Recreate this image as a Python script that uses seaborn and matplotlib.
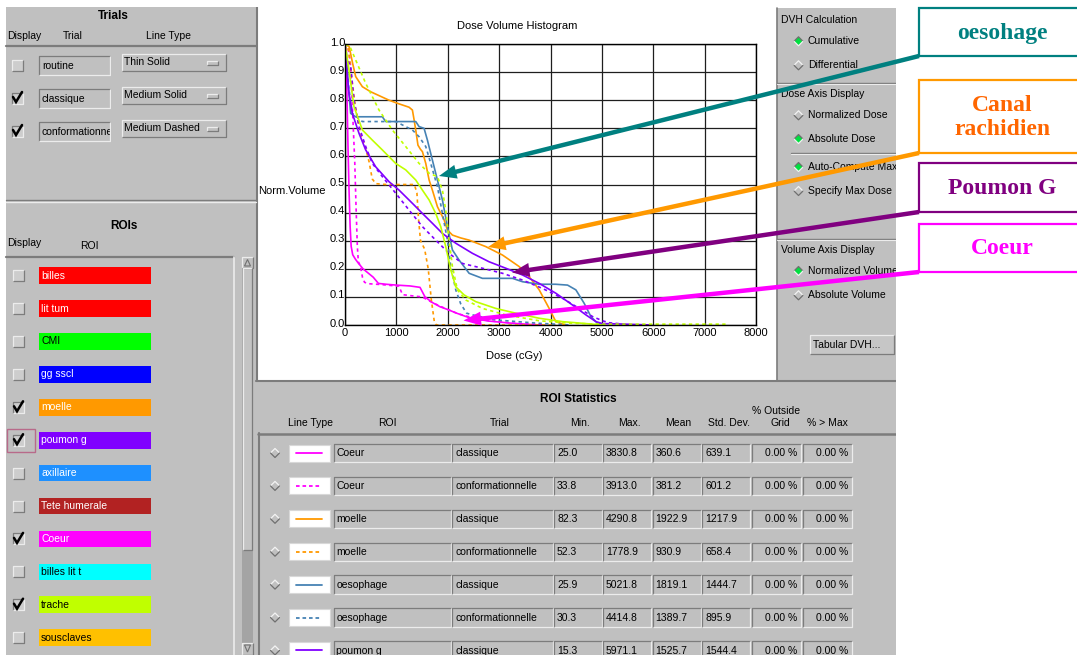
import numpy as np
import pandas as pd
import matplotlib
matplotlib.use("Agg")
import matplotlib.pyplot as plt
import matplotlib.transforms as mtransforms
import seaborn as sns
from matplotlib.patches import Rectangle, Polygon, FancyArrowPatch

# ---------------------------------------------------------------- DVH curves
coeur_cl_dose = [0, 25, 40, 60, 80, 100, 120, 150, 200, 260, 350, 450, 550, 650, 800, 1000,
                 1265, 1460, 1557, 1700, 1849, 2000, 2174, 2433, 2800, 3200, 3600, 3831]
coeur_cl_vol = [1.0, 0.98, 0.80, 0.62, 0.47, 0.35, 0.28, 0.25, 0.235, 0.22, 0.20, 0.185, 0.17,
                0.148, 0.145, 0.142, 0.139, 0.134, 0.10, 0.08, 0.065, 0.055, 0.042, 0.025,
                0.014, 0.007, 0.002, 0.0]

coeur_cf_dose = [0, 34, 80, 110, 150, 190, 215, 240, 260, 300, 340, 380, 450, 700, 1050, 1120,
                 1300, 1500, 1700, 1900, 2200, 2500, 2800, 3300, 3913]
coeur_cf_vol = [1.0, 1.0, 0.97, 0.92, 0.75, 0.58, 0.42, 0.28, 0.225, 0.21, 0.17, 0.152, 0.147,
                0.144, 0.138, 0.108, 0.104, 0.10, 0.08, 0.063, 0.04, 0.025, 0.015, 0.006, 0.0]

moelle_cl_dose = [0, 82, 150, 208, 338, 500, 857, 1052, 1247, 1312, 1345, 1377, 1420, 1470, 1507,
                  1572, 1637, 1701, 1799, 1929, 1994, 2091, 2250, 2416, 2740, 3065, 3390, 3585,
                  3780, 3974, 4104, 4291]
moelle_cl_vol = [1.0, 0.99, 0.93, 0.884, 0.848, 0.83, 0.80, 0.787, 0.775, 0.765, 0.73, 0.694,
                 0.64, 0.625, 0.617, 0.575, 0.516, 0.48, 0.421, 0.374, 0.338, 0.32, 0.31, 0.302,
                 0.279, 0.249, 0.208, 0.172, 0.125, 0.059, 0.012, 0.0]

moelle_cf_dose = [0, 52, 100, 150, 200, 260, 320, 400, 470, 530, 600, 800, 1100, 1350, 1400, 1430,
                  1470, 1550, 1620, 1680, 1740, 1779, 2500, 4100]
moelle_cf_vol = [1.0, 1.0, 0.93, 0.85, 0.78, 0.72, 0.67, 0.63, 0.58, 0.52, 0.503, 0.50, 0.50,
                 0.50, 0.47, 0.38, 0.30, 0.27, 0.20, 0.09, 0.01, 0.0, 0.0, 0.0]

oeso_cl_dose = [0, 26, 60, 110, 208, 380, 727, 792, 1000, 1377, 1442, 1539, 1604, 1701, 1799,
                1896, 1994, 2091, 2221, 2416, 2675, 3000, 3260, 3455, 3780, 4100, 4332, 4494,
                4656, 4786, 4916, 5022]
oeso_cl_vol = [0.98, 0.97, 0.86, 0.753, 0.741, 0.741, 0.741, 0.724, 0.724, 0.724, 0.706, 0.70,
               0.658, 0.587, 0.516, 0.445, 0.35, 0.267, 0.231, 0.184, 0.166, 0.166, 0.166, 0.154,
               0.145, 0.145, 0.142, 0.125, 0.077, 0.03, 0.006, 0.0]

oeso_cf_dose = [0, 30, 70, 143, 338, 600, 987, 1117, 1312, 1442, 1572, 1669, 1799, 1896, 1994,
                2059, 2156, 2253, 2368, 2481, 2935, 3780, 4415]
oeso_cf_vol = [0.97, 0.96, 0.85, 0.753, 0.724, 0.724, 0.724, 0.712, 0.694, 0.67, 0.635, 0.575,
               0.492, 0.397, 0.302, 0.208, 0.125, 0.075, 0.042, 0.036, 0.018, 0.006, 0.0]

poumon_cl_dose = [0, 15, 78, 143, 273, 403, 597, 857, 1052, 1312, 1507, 1701, 1896, 2156, 2481,
                  2805, 3130, 3455, 3780, 4104, 4429, 4689, 4884, 5013, 5300, 5971]
poumon_cl_vol = [0.96, 0.95, 0.824, 0.753, 0.682, 0.623, 0.563, 0.51, 0.48, 0.433, 0.397, 0.362,
                 0.326, 0.291, 0.255, 0.225, 0.202, 0.178, 0.148, 0.113, 0.071, 0.036, 0.012,
                 0.005, 0.004, 0.0]

poumon_cf_dose = [0, 30, 110, 175, 273, 403, 532, 727, 987, 1247, 1507, 1766, 2026, 2286, 2675,
                  3065, 3455, 3845, 4234, 4559, 4819, 5013, 5143, 5600]
poumon_cf_vol = [0.96, 0.95, 0.92, 0.80, 0.706, 0.635, 0.575, 0.528, 0.469, 0.409, 0.35, 0.302,
                 0.255, 0.219, 0.202, 0.184, 0.16, 0.13, 0.095, 0.059, 0.03, 0.015, 0.008, 0.0]

trache_cl_dose = [0, 78, 175, 338, 532, 727, 987, 1182, 1377, 1507, 1637, 1766, 1864, 1961, 2059,
                  2156, 2318, 2546, 2935, 3325, 3780, 4234, 4754, 5000]
trache_cl_vol = [1.0, 0.907, 0.777, 0.694, 0.658, 0.623, 0.575, 0.552, 0.516, 0.48, 0.445, 0.397,
                 0.35, 0.279, 0.196, 0.136, 0.107, 0.083, 0.059, 0.042, 0.024, 0.012, 0.004, 0.0]

trache_cf_dose = [0, 110, 208, 403, 662, 922, 1182, 1442, 1637, 1799, 1896, 1961, 2026, 2091,
                  2188, 2351, 2675, 3130, 3780, 4429, 5000, 7420]
trache_cf_vol = [1.0, 0.985, 0.943, 0.86, 0.765, 0.694, 0.635, 0.575, 0.54, 0.528, 0.48, 0.409,
                 0.302, 0.208, 0.125, 0.089, 0.059, 0.036, 0.015, 0.006, 0.003, 0.003]

curve_colors = {"Coeur": "#ff00ff", "moelle": "#ff9900", "oesophage": "#4682b4",
                "poumon g": "#8000ff", "trache": "#c0ff00"}

# ---------------------------------------------------------------- side panels
trial_names = ["routine", "classique", "conformationnelle"]
trial_shown = [False, True, True]
trial_line_types = ["Thin Solid", "Medium Solid", "Medium Dashed"]

roi_names = ["billes", "lit tum", "CMI", "gg sscl", "moelle", "poumon g", "axillaire",
             "Tete humerale", "Coeur", "billes lit t", "trache", "sousclaves"]
roi_colors = ["#ff0000", "#ff0000", "#00ff00", "#0000ff", "#ff9900", "#8000ff", "#1e90ff",
              "#b22222", "#ff00ff", "#00ffff", "#c0ff00", "#ffc000"]
roi_text_colors = ["white", "white", "black", "white", "white", "white", "white",
                   "white", "white", "black", "black", "black"]
roi_shown = [False, False, False, False, True, True, False, False, True, False, True, False]

# ---------------------------------------------------------------- statistics table
stat_roi = ["Coeur", "Coeur", "moelle", "moelle", "oesophage", "oesophage", "poumon g"]
stat_trial = ["classique", "conformationnelle", "classique", "conformationnelle",
              "classique", "conformationnelle", "classique"]
stat_min = ["25.0", "33.8", "82.3", "52.3", "25.9", "30.3", "15.3"]
stat_max = ["3830.8", "3913.0", "4290.8", "1778.9", "5021.8", "4414.8", "5971.1"]
stat_mean = ["360.6", "381.2", "1922.9", "930.9", "1819.1", "1389.7", "1525.7"]
stat_std = ["639.1", "601.2", "1217.9", "658.4", "1444.7", "895.9", "1544.4"]
stat_outside = ["0.00 %"] * 7
stat_over = ["0.00 %"] * 7

# ---------------------------------------------------------------- callouts
callout_texts = ["oesohage", "Canal\nrachidien", "Poumon G", "Coeur"]
callout_text_colors = ["#008080", "#ff6600", "#800080", "#ff00ff"]
callout_edge_colors = ["#008080", "#ff9900", "#800080", "#ff00ff"]

# ================================================================ figure
sns.set_theme(style="white")
plt.rcParams["font.family"] = ["Liberation Sans", "DejaVu Sans"]

W, H = 1077, 655
fig = plt.figure(figsize=(W / 100, H / 100), dpi=100)
fig.patch.set_facecolor("white")

bg = fig.add_axes([0, 0, 1, 1], zorder=0)
bg.set_xlim(0, W)
bg.set_ylim(H, 0)
bg.axis("off")

GRAY = "#c0c0c0"
LIGHT = "#ececec"
DARK = "#7c7c7c"
FS = 7.5


def box(ax, x0, y0, x1, y1, fc, ec="none", lw=0.0, z=1.0):
    ax.add_patch(Rectangle((x0, y0), x1 - x0, y1 - y0, facecolor=fc, edgecolor=ec,
                           linewidth=lw, zorder=z))


def bevel(x0, y0, x1, y1, fc=GRAY, raised=True, z=2.0, lw=0.9):
    box(bg, x0, y0, x1, y1, fc, z=z)
    hi, lo = (LIGHT, DARK) if raised else (DARK, LIGHT)
    bg.plot([x0, x0, x1], [y1, y0, y0], color=hi, lw=lw, zorder=z + 0.1, solid_capstyle="butt")
    bg.plot([x0, x1, x1], [y1, y1, y0], color=lo, lw=lw, zorder=z + 0.1, solid_capstyle="butt")


def txt(x, y, s, ha="left", size=FS, weight="normal", color="black", z=5.0):
    bg.text(x, y, s, ha=ha, va="center", fontsize=size, fontweight=weight, color=color, zorder=z)


def checkbox(cx, cy, checked):
    bevel(cx - 5.5, cy - 5.5, cx + 5.5, cy + 5.5, fc="#cdcdcd", raised=not checked, z=3)
    if checked:
        bg.plot([cx - 4, cx - 1, cx + 5], [cy - 1, cy + 4, cy - 6], color="black", lw=1.8,
                zorder=3.5, solid_joinstyle="miter")


def diamond(cx, cy, selected):
    r = 4.5
    fc = "#00e040" if selected else GRAY
    bg.add_patch(Polygon([(cx - r, cy), (cx, cy - r), (cx + r, cy), (cx, cy + r)], closed=True,
                         facecolor=fc, edgecolor="none", zorder=3))
    top, bot = ("#707070", "#f0f0f0") if selected else ("#f4f4f4", "#707070")
    bg.plot([cx - r, cx, cx + r], [cy, cy - r, cy], color=top, lw=0.9, zorder=3.1)
    bg.plot([cx - r, cx, cx + r], [cy, cy + r, cy], color=bot, lw=0.9, zorder=3.1)


# panels
box(bg, 6, 7, 256, H, GRAY)
box(bg, 777, 8, 896, 381, GRAY)
box(bg, 256, 381, 896, H, GRAY)
bg.plot([256.5, 256.5], [7, 381], color=DARK, lw=1.5, zorder=1.5)
bg.plot([777, 777], [8, 381], color=DARK, lw=1.2, zorder=1.5)
bg.plot([256, 896], [381, 381], color=DARK, lw=1.5, zorder=1.5)
bg.plot([6, 256], [200, 200], color=DARK, lw=1.0, zorder=1.5)
bg.plot([6, 256], [201.5, 201.5], color=LIGHT, lw=1.0, zorder=1.5)

# Trials panel
txt(113, 16, "Trials", ha="center", size=8.5, weight="bold")
txt(7, 36, "Display")
txt(73, 36, "Trial", ha="center")
txt(169, 36, "Line Type", ha="center")
bg.plot([6, 256], [46, 46], color=DARK, lw=1.6, zorder=1.6)
for i, (name, shown, ltype) in enumerate(zip(trial_names, trial_shown, trial_line_types)):
    cy = 65 + i * 33
    checkbox(17, cy, shown)
    # text field: the name is cut at the field's right edge
    bevel(39, cy - 9.5, 110, cy + 9.5, raised=False, z=2)
    bg.text(42, cy + 1, name, ha="left", va="center", fontsize=FS, color="black", zorder=2.05)
    box(bg, 110.5, cy - 12, 121.9, cy + 12, GRAY, z=2.15)
    bevel(122, cy - 11, 226, cy + 6, raised=True, z=2.3)
    txt(124, cy - 3, ltype)
    bevel(207, cy - 4.5, 218, cy - 0.5, raised=True, z=2.5)

# ROIs panel
txt(124, 226, "ROIs", ha="center", size=8.5, weight="bold")
txt(7, 243, "Display")
txt(89.5, 246, "ROI", ha="center")
bg.plot([6, 234], [257, 257], color=DARK, lw=1.6, zorder=1.6)
bg.plot([234, 234], [257, H], color=LIGHT, lw=1.2, zorder=1.6)
for i, (name, col, tcol, shown) in enumerate(zip(roi_names, roi_colors, roi_text_colors,
                                                  roi_shown)):
    cy = 275.7 + i * 32.9
    checkbox(18, cy, shown)
    box(bg, 39, cy - 8.3, 151, cy + 8.3, col, z=2)
    txt(41, cy, name, color=tcol)
highlight_cy = 275.7 + 5 * 32.9
box(bg, 7, highlight_cy - 11.5, 35, highlight_cy + 11.5, "none", ec="#b86a8a", lw=1.0, z=4)

# scrollbar
box(bg, 242, 257, 253, H, "#a4a4a4", z=2)
bevel(242, 257, 253, 268, raised=True, z=2.2)
bg.add_patch(Polygon([(244.5, 266), (247.5, 259.5), (250.5, 266)], closed=True,
                     facecolor="none", edgecolor="#707070", lw=0.8, zorder=2.5))
bevel(243, 268, 252, 550, fc="#c4c4c4", raised=True, z=2.2)
bevel(242, 643, 253, 655, raised=True, z=2.2)
bg.add_patch(Polygon([(244.5, 645), (247.5, 652), (250.5, 645)], closed=True,
                     facecolor="none", edgecolor="#707070", lw=0.8, zorder=2.5))

# right control panel
txt(781, 20, "DVH Calculation")
radio_rows = [(41.3, "Cumulative", True), (65.3, "Differential", False),
              (115.3, "Normalized Dose", False), (139, "Absolute Dose", True),
              (167, "Auto-Compute Max Dose", True), (191, "Specify Max Dose", False),
              (271, "Normalized Volume", True), (295.3, "Absolute Volume", False)]
for cy, label, sel in radio_rows:
    diamond(798.5, cy, sel)
    txt(808, cy, label)
bg.plot([777, 896], [82.5, 82.5], color=DARK, lw=1.0, zorder=1.6)
bg.plot([777, 896], [83.5, 83.5], color=LIGHT, lw=0.8, zorder=1.6)
txt(781, 94.3, "Dose Axis Display")
bg.plot([791, 896], [152.5, 152.5], color=DARK, lw=1.0, zorder=1.6)
bg.plot([791, 896], [153.5, 153.5], color=LIGHT, lw=0.8, zorder=1.6)
bg.plot([777, 896], [238.5, 238.5], color=DARK, lw=1.0, zorder=1.6)
bg.plot([777, 896], [239.5, 239.5], color=LIGHT, lw=0.8, zorder=1.6)
txt(781, 250, "Volume Axis Display")
bevel(810, 335, 894, 354, fc="#c6c6c6", raised=True, z=2)
txt(813, 344.5, "Tabular DVH...")

# statistics table
txt(578, 399, "ROI Statistics", ha="center", size=8.5, weight="bold")
headers = [(311, "Line Type"), (387, "ROI"), (500, "Trial"), (580, "Min."), (629, "Max."),
           (678, "Mean"), (729, "Std. Dev."), (780, "Grid"), (827, "% > Max")]
for hx, h in headers:
    txt(hx, 423, h, ha="center")
txt(776, 411, "% Outside", ha="center")
bg.plot([258, 896], [433.5, 433.5], color=DARK, lw=1.8, zorder=1.6)
bg.plot([258.5, 258.5], [433, H], color=DARK, lw=1.5, zorder=1.6)

cell_x = [(333.5, 450.7), (452, 552.7), (554, 601.7), (603, 651), (652.7, 700.5),
          (702, 750), (752, 801), (803, 852)]
for i in range(len(stat_roi)):
    cy = 453 + i * 32.9
    diamond(275, cy, False)
    box(bg, 289, cy - 8.5, 330, cy + 8.5, "white", ec="#d8d8d8", lw=0.8, z=2)
    dashed = stat_trial[i] == "conformationnelle"
    bg.plot([296, 322], [cy, cy], color=curve_colors[stat_roi[i]], lw=1.3, zorder=2.5,
            linestyle=(0, (2, 1.6)) if dashed else "-")
    values = [stat_roi[i], stat_trial[i], stat_min[i], stat_max[i], stat_mean[i], stat_std[i],
              stat_outside[i], stat_over[i]]
    for j, ((x0, x1), v) in enumerate(zip(cell_x, values)):
        bevel(x0, cy - 9.2, x1, cy + 9.2, raised=False, z=2)
        if j >= 6:
            txt(x1 - 4, cy + 0.5, v, ha="right")
        else:
            txt(x0 + 3, cy + 0.5, v)

# everything right of the panels is blank paper
box(bg, 896, 0, W, H, "white", z=9)
box(bg, 0, 0, W, 7, "white", z=9)

# ================================================================ DVH plot
rows = []
series = [("Coeur", "classique", coeur_cl_dose, coeur_cl_vol),
          ("Coeur", "conformationnelle", coeur_cf_dose, coeur_cf_vol),
          ("moelle", "classique", moelle_cl_dose, moelle_cl_vol),
          ("moelle", "conformationnelle", moelle_cf_dose, moelle_cf_vol),
          ("oesophage", "classique", oeso_cl_dose, oeso_cl_vol),
          ("oesophage", "conformationnelle", oeso_cf_dose, oeso_cf_vol),
          ("poumon g", "classique", poumon_cl_dose, poumon_cl_vol),
          ("poumon g", "conformationnelle", poumon_cf_dose, poumon_cf_vol),
          ("trache", "classique", trache_cl_dose, trache_cl_vol),
          ("trache", "conformationnelle", trache_cf_dose, trache_cf_vol)]
for roi, trial, dose, vol in series:
    rows.append(pd.DataFrame({"dose": dose, "volume": vol, "roi": roi, "trial": trial}))
dvh = pd.concat(rows, ignore_index=True)

ax = fig.add_axes([345 / W, 1 - 325 / H, (756 - 345) / W, (325 - 44) / H], zorder=1)
ax.set_facecolor("white")
ax.set_axisbelow(True)
sns.lineplot(data=dvh, x="dose", y="volume", hue="roi", style="trial",
             palette=curve_colors,
             dashes={"classique": "", "conformationnelle": (2, 2)},
             estimator=None, sort=False, lw=1.2, legend=False, ax=ax)
ax.set_xlim(0, 8000)
ax.set_ylim(0, 1.0)
ax.set_xticks(np.arange(0, 8001, 1000))
yt = np.round(np.arange(0, 1.001, 0.1), 1)
ax.set_yticks(yt)
ax.set_yticklabels([f"{v:.1f}" for v in yt])
ax.grid(True, color="#1e1e1e", lw=0.9)
ax.tick_params(length=0, labelsize=8, colors="black")
ax.tick_params(axis="x", pad=2.5)
ax.tick_params(axis="y", pad=0)
# y labels sit a touch above their grid lines
lift = mtransforms.ScaledTranslation(0, 2.5 / 100, fig.dpi_scale_trans)
for lab in ax.get_yticklabels():
    lab.set_transform(lab.get_transform() + lift)
for s in ax.spines.values():
    s.set_color("black")
    s.set_linewidth(1.0)
    s.set_visible(True)
ax.set_xlabel("")
ax.set_ylabel("")

txt(517, 26, "Dose Volume Histogram", ha="center", size=8)
txt(258, 191, "Norm.Volume", size=8)
txt(514, 356, "Dose (cGy)", ha="center", size=8)

# ================================================================ callouts
fg = fig.add_axes([0, 0, 1, 1], zorder=3)
fg.set_xlim(0, W)
fg.set_ylim(H, 0)
fg.axis("off")

callout_boxes = [(8, 56), (80, 153), (163, 212), (224, 272)]
arrow_tips = [(439, 176), (488, 247), (512, 272.5), (463.5, 320.5)]
for (top, bot), label, tcol, ecol, tip in zip(callout_boxes, callout_texts, callout_text_colors,
                                              callout_edge_colors, arrow_tips):
    fg.add_patch(Rectangle((919, top), 200, bot - top, facecolor="white", edgecolor=ecol,
                           linewidth=1.6, zorder=2))
    fg.text(1002, (top + bot) / 2 + 1, label, ha="center", va="center", fontsize=17,
            fontweight="bold", color=tcol, family="Liberation Serif", linespacing=1.2,
            zorder=3)
    fg.add_patch(FancyArrowPatch((919, bot), tip,
                                 arrowstyle="simple,head_length=0.9,head_width=0.72,tail_width=0.23",
                                 mutation_scale=14, color=ecol, lw=0, shrinkA=0, shrinkB=0,
                                 zorder=4))

fig.savefig("out.png", dpi=100, facecolor="white")
